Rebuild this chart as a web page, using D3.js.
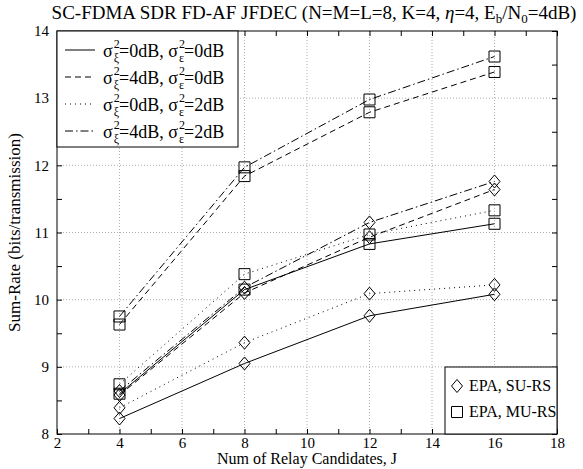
<!DOCTYPE html>
<html>
<head>
<meta charset="utf-8">
<script src="https://cdn.jsdelivr.net/npm/d3@7"></script>
<style>
  body { margin: 0; background: #fff; }
</style>
</head>
<body>
<div id="chart"></div>
<script>
// relay candidates J
const relays = [4, 8, 12, 16];
const xTicks = [2, 4, 6, 8, 10, 12, 14, 16, 18];
const yTicks = [8, 9, 10, 11, 12, 13, 14];

// sum-rate, SU-RS (diamonds)
const su_0_0 = [8.23, 9.05, 9.76, 10.08];
const su_4_0 = [8.58, 10.10, 10.93, 11.64];
const su_0_2 = [8.39, 9.36, 10.09, 10.22];
const su_4_2 = [8.64, 10.18, 11.15, 11.76];
// sum-rate, MU-RS (squares)
const mu_0_0 = [8.60, 10.15, 10.83, 11.13];
const mu_4_0 = [9.63, 11.84, 12.79, 13.39];
const mu_0_2 = [8.74, 10.38, 10.97, 11.33];
const mu_4_2 = [9.75, 11.97, 12.98, 13.62];

const legendLabels = [
  ["0dB", "0dB"],
  ["4dB", "0dB"],
  ["0dB", "2dB"],
  ["4dB", "2dB"]
];
const dashes = [null, "6,4", "1,4", "8,3,1.5,3"];

const FONT = "'Liberation Serif'";

var margin = {top: 31, right: 26, bottom: 35, left: 57},
    width = 583 - margin.left - margin.right,
    height = 469 - margin.top - margin.bottom;

var svgRoot = d3.select("#chart").append("svg")
    .attr("width", 583).attr("height", 469);
var svg = svgRoot.append("g")
    .attr("transform", "translate(" + margin.left + "," + margin.top + ")");

var x = d3.scaleLinear().domain([2, 18]).range([0, width]);
var y = d3.scaleLinear().domain([8, 14]).range([height, 0]);

// grid
svg.append("g").selectAll("line").data(xTicks.slice(1, -1)).enter().append("line")
  .attr("x1", d => x(d)).attr("x2", d => x(d)).attr("y1", 0).attr("y2", height)
  .attr("stroke", "#999").attr("stroke-width", 0.8).attr("stroke-dasharray", "1,2");
svg.append("g").selectAll("line").data(yTicks.slice(1, -1)).enter().append("line")
  .attr("y1", d => y(d)).attr("y2", d => y(d)).attr("x1", 0).attr("x2", width)
  .attr("stroke", "#999").attr("stroke-width", 0.8).attr("stroke-dasharray", "1,2");

// axes, ticks pointing inward
var xMinor = d3.range(2, 19, 1);
var yMinor = d3.range(8, 14.01, 0.5);
svg.append("g").attr("transform", "translate(0," + height + ")")
  .call(d3.axisBottom(x).tickValues(xMinor).tickSize(-5).tickFormat(d => xTicks.includes(d) ? d : ""))
  .call(g => g.selectAll("text").attr("y", 14).attr("dy", null)
    .style("font-size", "15px").style("font-family", FONT))
  .call(g => g.select(".domain").remove());
svg.append("g")
  .call(d3.axisTop(x).tickValues(xMinor).tickSize(-5).tickFormat(""))
  .call(g => g.select(".domain").remove());
svg.append("g")
  .call(d3.axisLeft(y).tickValues(yMinor).tickSize(-5).tickFormat(d => Number.isInteger(d) ? d : ""))
  .call(g => g.selectAll("text").attr("x", -8)
    .style("font-size", "15px").style("font-family", FONT))
  .call(g => g.select(".domain").remove());
svg.append("g").attr("transform", "translate(" + width + ",0)")
  .call(d3.axisRight(y).tickValues(yMinor).tickSize(-5).tickFormat(""))
  .call(g => g.select(".domain").remove());

svg.append("rect").attr("width", width).attr("height", height)
  .attr("fill", "none").attr("stroke", "#000").attr("stroke-width", 1);

// series
var series = [
  {su: su_0_0, mu: mu_0_0, dash: dashes[0]},
  {su: su_4_0, mu: mu_4_0, dash: dashes[1]},
  {su: su_0_2, mu: mu_0_2, dash: dashes[2]},
  {su: su_4_2, mu: mu_4_2, dash: dashes[3]}
];
var line = d3.line().x((d, i) => x(relays[i])).y(d => y(d));
var diamond = "M0,-6.5L5.5,0L0,6.5L-5.5,0Z";
var square = "M-5.5,-5.5H5.5V5.5H-5.5Z";

series.forEach(s => {
  ["su", "mu"].forEach(k => {
    svg.append("path").datum(s[k]).attr("d", line)
      .attr("fill", "none").attr("stroke", "#000").attr("stroke-width", 1)
      .attr("stroke-dasharray", s.dash);
    svg.append("g").selectAll("path").data(s[k]).enter().append("path")
      .attr("transform", (d, i) => "translate(" + x(relays[i]) + "," + y(d) + ")")
      .attr("d", k == "su" ? diamond : square)
      .attr("fill", "none").attr("stroke", "#000").attr("stroke-width", 1);
  });
});

// legend 1 (line styles)
var lg = svg.append("g");
lg.append("rect").attr("x", 0).attr("y", 0).attr("width", 181).attr("height", 116)
  .attr("fill", "#fff").attr("stroke", "#000");
legendLabels.forEach((lab, i) => {
  var cy = 26 + i * 27;
  lg.append("line").attr("x1", 8).attr("x2", 38).attr("y1", cy - 7).attr("y2", cy - 7)
    .attr("stroke", "#000").attr("stroke-dasharray", dashes[i]);
  var t = lg.append("text").attr("x", 46).attr("y", cy)
    .style("font-size", "18px").style("font-family", FONT);
  t.append("tspan").text("\u03c3");
  t.append("tspan").attr("dx", 1).attr("dy", -9).style("font-size", "12px").text("2");
  t.append("tspan").attr("dx", -6).attr("dy", 14).style("font-size", "12px").text("\u03be");
  t.append("tspan").attr("dy", -5).text("=" + lab[0] + ", \u03c3");
  t.append("tspan").attr("dx", 1).attr("dy", -9).style("font-size", "12px").text("2");
  t.append("tspan").attr("dx", -6).attr("dy", 14).style("font-size", "12px").text("\u03b5");
  t.append("tspan").attr("dy", -5).text("=" + lab[1]);
});

// legend 2 (markers)
var lg2 = svg.append("g").attr("transform", "translate(" + (width - 112) + "," + (height - 67) + ")");
lg2.append("rect").attr("width", 112).attr("height", 67)
  .attr("fill", "#fff").attr("stroke", "#000");
[["EPA, SU-RS", diamond], ["EPA, MU-RS", square]].forEach((e, i) => {
  var cy = 19 + i * 26;
  lg2.append("path").attr("transform", "translate(12," + cy + ")").attr("d", e[1])
    .attr("fill", "none").attr("stroke", "#000");
  lg2.append("text").attr("x", 24).attr("y", cy + 5)
    .style("font-size", "16px").style("font-family", FONT).text(e[0]);
});

// title & axis labels
var title = svgRoot.append("text").attr("x", 314).attr("y", 19)
  .attr("text-anchor", "middle").style("font-size", "19px").style("font-family", FONT);
title.append("tspan").text("SC-FDMA SDR FD-AF JFDEC (N=M=L=8, K=4, ");
title.append("tspan").style("font-style", "italic").text("\u03b7");
title.append("tspan").text("=4, E");
title.append("tspan").attr("dy", 4).style("font-size", "13px").text("b");
title.append("tspan").attr("dy", -4).text("/N");
title.append("tspan").attr("dy", 4).style("font-size", "13px").text("0");
title.append("tspan").attr("dy", -4).text("=4dB)");

svgRoot.append("text").attr("x", margin.left + width / 2).attr("y", 464)
  .attr("text-anchor", "middle").style("font-size", "16px").style("font-family", FONT)
  .text("Num of Relay Candidates, J");
svgRoot.append("text").attr("transform", "translate(20," + (margin.top + height / 2) + ")rotate(-90)")
  .attr("text-anchor", "middle").style("font-size", "17px").style("font-family", FONT)
  .text("Sum-Rate (bits/transmission)");
</script>
</body>
</html>
